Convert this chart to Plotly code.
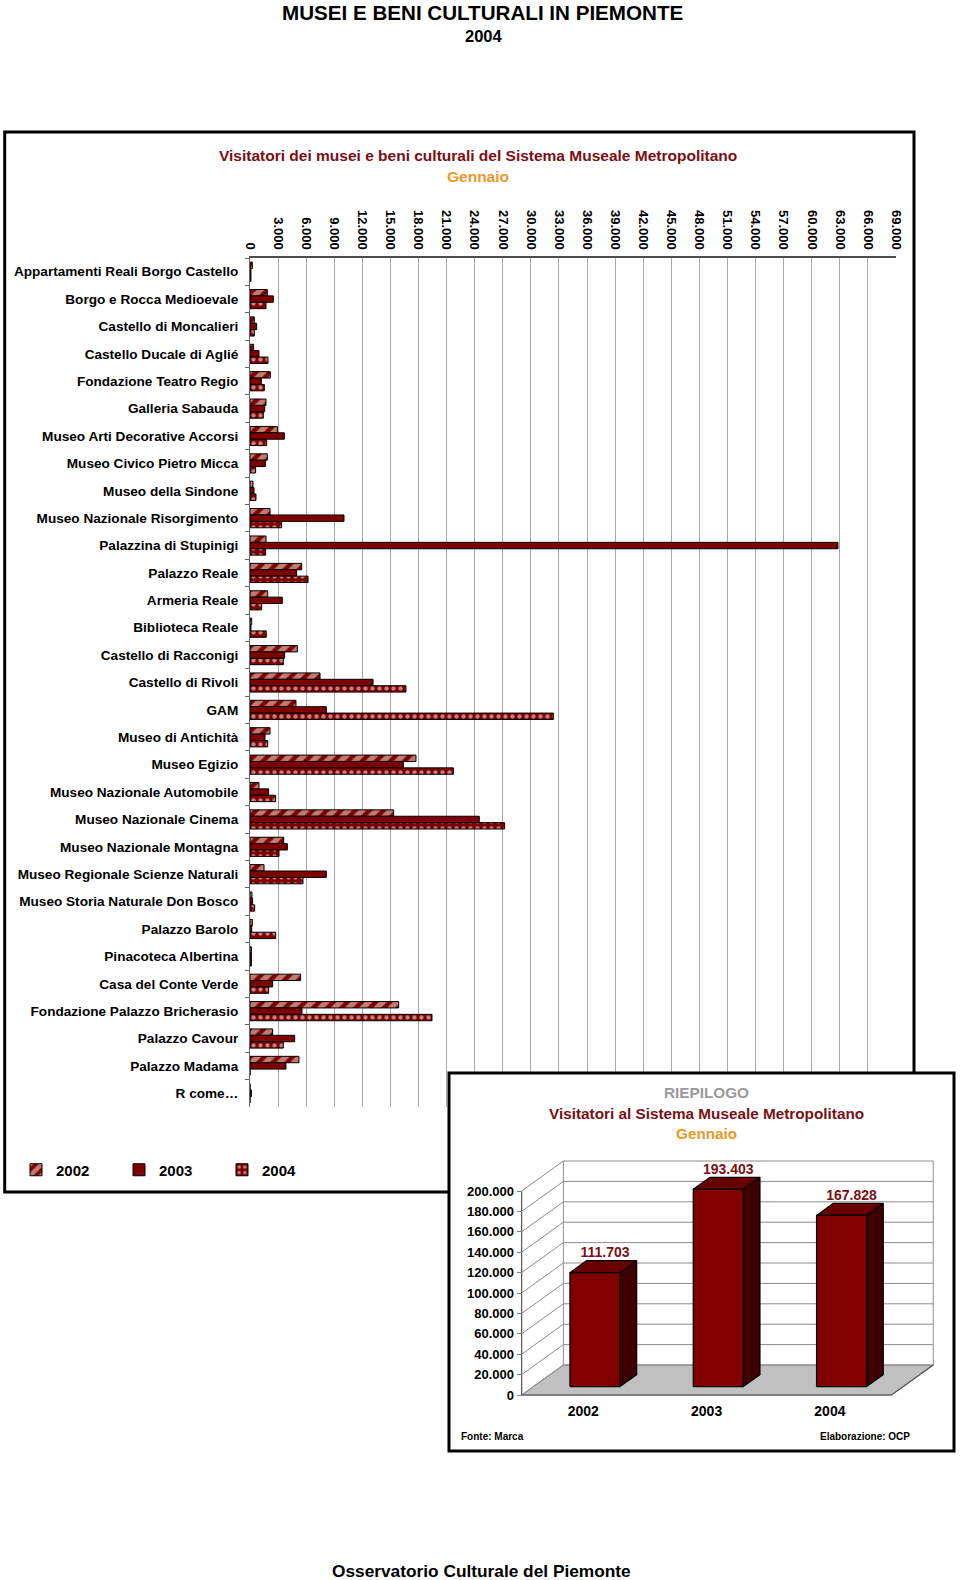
import plotly.graph_objects as go

# ---------------- DATA ----------------
CATEGORIES = [
    "Appartamenti Reali Borgo Castello", "Borgo e Rocca Medioevale", "Castello di Moncalieri",
    "Castello Ducale di Aglié", "Fondazione Teatro Regio", "Galleria Sabauda",
    "Museo Arti Decorative Accorsi", "Museo Civico Pietro Micca", "Museo della Sindone",
    "Museo Nazionale Risorgimento", "Palazzina di Stupinigi", "Palazzo Reale", "Armeria Reale",
    "Biblioteca Reale", "Castello di Racconigi", "Castello di Rivoli", "GAM", "Museo di Antichità",
    "Museo Egizio", "Museo Nazionale Automobile", "Museo Nazionale Cinema",
    "Museo Nazionale Montagna", "Museo Regionale Scienze Naturali",
    "Museo Storia Naturale Don Bosco", "Palazzo Barolo", "Pinacoteca Albertina",
    "Casa del Conte Verde", "Fondazione Palazzo Bricherasio", "Palazzo Cavour", "Palazzo Madama",
    "R come…",
]
V2002 = [250, 1850, 460, 390, 2170, 1710, 2920, 1850, 320, 2140, 1710, 5520, 1890, 180, 5060,
         7480, 4910, 2140, 17730, 960, 15340, 3600, 1500, 210, 250, 150, 5410, 15880, 2420, 5230, 0]
V2003 = [100, 2490, 710, 960, 1210, 1570, 3670, 1640, 430, 10040, 62800, 4980, 3450, 100, 3700,
         13140, 8150, 1600, 16380, 1990, 24490, 3990, 8150, 280, 180, 150, 2420, 5550, 4770, 3840, 150]
V2004 = [100, 1710, 460, 1920, 1530, 1420, 1780, 600, 640, 3380, 1670, 6200, 1250, 1740, 3560,
         16660, 32400, 1890, 21720, 2740, 27200, 3100, 5660, 500, 2740, 150, 1990, 19440, 3560, 0, 0]
SERIES_NAMES = ["2002", "2003", "2004"]
X_TICKS = [0, 3000, 6000, 9000, 12000, 15000, 18000, 21000, 24000, 27000, 30000, 33000, 36000,
           39000, 42000, 45000, 48000, 51000, 54000, 57000, 60000, 63000, 66000, 69000]

SUMMARY_YEARS = ["2002", "2003", "2004"]
SUMMARY_TOTALS = [111703, 193403, 167828]
SUMMARY_TICKS = [0, 20000, 40000, 60000, 80000, 100000, 120000, 140000, 160000, 180000, 200000]

# ---------------- LAYOUT HELPERS ----------------
W, H = 960, 1580
FONT = "Liberation Sans, Arial, Helvetica, sans-serif"
DARKRED = "#800000"
TITLE_RED = "#7A0F14"
ORANGE = "#E69A28"


def px(x):
    return x / W


def py(y):
    return 1 - y / H


fig = go.Figure()

# ---------------- MAIN CHART ----------------
styles = [
    dict(color=DARKRED, line=dict(color="black", width=1),
         pattern=dict(shape="/", fgcolor="#FFF8E2", bgcolor=DARKRED, size=10, solidity=0.55)),
    dict(color=DARKRED, line=dict(color="black", width=1)),
    dict(color=DARKRED, line=dict(color="black", width=1),
         pattern=dict(shape=".", fgcolor="#FFFFFF", bgcolor=DARKRED, size=7, solidity=0.3)),
]
for name, vals, st in zip(SERIES_NAMES, [V2002, V2003, V2004], styles):
    fig.add_trace(go.Bar(y=CATEGORIES, x=vals, orientation="h", name=name, marker=st,
                         xaxis="x", yaxis="y", hoverinfo="x+y+name"))

# ---------------- SUMMARY (pseudo-3D) CHART ----------------
BOX = (449, 1073, 954, 1451)          # px box of the summary panel
X0_PX, CAT_PX = 583.3, 123.3          # px of category 0 on the front axis, px per category
ZERO_PX, V_PER_PX = 1395.0, 980.4     # px of value 0 on the front axis, value per px
DEPTH_X, DEPTH_V = 0.338, 29400       # floor depth in axis units
BAR_F, BAR_D, BAR_HALF = 0.28, 0.40, 0.203

xr = [(BOX[0] - X0_PX) / CAT_PX, (BOX[2] - X0_PX) / CAT_PX]
yr = [(ZERO_PX - BOX[3]) * V_PER_PX, (ZERO_PX - BOX[1]) * V_PER_PX]

sub = dict(xaxis="x2", yaxis="y2", showlegend=False, hoverinfo="skip")

# white panel background (covers main chart behind it)
fig.add_trace(go.Scatter(x=[xr[0], xr[1], xr[1], xr[0], xr[0]], y=[yr[0], yr[0], yr[1], yr[1], yr[0]],
                         mode="lines", fill="toself", fillcolor="white", line=dict(width=0), **sub))

left, right = -0.5, len(SUMMARY_YEARS) - 0.5
top_v = SUMMARY_TICKS[-1]
# floor
fig.add_trace(go.Scatter(x=[left, right, right + DEPTH_X, left + DEPTH_X, left],
                         y=[0, 0, DEPTH_V, DEPTH_V, 0], mode="lines", fill="toself",
                         fillcolor="#C0C0C0", line=dict(color="#808080", width=1), **sub))
# walls and gridlines
gx, gy = [], []
for t in SUMMARY_TICKS:
    gx += [left, left + DEPTH_X, right + DEPTH_X, None]
    gy += [t, t + DEPTH_V, t + DEPTH_V, None]
gx += [left + DEPTH_X, left + DEPTH_X, None, right + DEPTH_X, right + DEPTH_X, None]
gy += [DEPTH_V, top_v + DEPTH_V, None, DEPTH_V, top_v + DEPTH_V, None]
fig.add_trace(go.Scatter(x=gx, y=gy, mode="lines", line=dict(color="#8C8C8C", width=1), **sub))
# front axis lines
fig.add_trace(go.Scatter(x=[left, left, None, left, right, right + DEPTH_X],
                         y=[top_v, 0, None, 0, 0, DEPTH_V], mode="lines",
                         line=dict(color="#555555", width=1.2), **sub))

# bars
fx, fy, sx, sy, tx, ty = [], [], [], [], [], []
lab_x, lab_y = [], []
base = BAR_F * DEPTH_V
dx, dv = BAR_D * DEPTH_X, BAR_D * DEPTH_V
for i, v in enumerate(SUMMARY_TOTALS):
    c = i + BAR_F * DEPTH_X
    x0, x1 = c - BAR_HALF, c + BAR_HALF
    t = base + v
    fx += [x0, x1, x1, x0, x0, None]
    fy += [base, base, t, t, base, None]
    sx += [x1, x1 + dx, x1 + dx, x1, x1, None]
    sy += [base, base + dv, t + dv, t, base, None]
    tx += [x0, x1, x1 + dx, x0 + dx, x0, None]
    ty += [t, t, t + dv, t + dv, t, None]
    lab_x.append(c + dx * 0.6)
    lab_y.append(t + dv)
edge = dict(color="black", width=1.2)
fig.add_trace(go.Scatter(x=sx, y=sy, mode="lines", fill="toself", fillcolor="#3E0000", line=edge, **sub))
fig.add_trace(go.Scatter(x=tx, y=ty, mode="lines", fill="toself", fillcolor="#680000", line=edge, **sub))
fig.add_trace(go.Scatter(x=fx, y=fy, mode="lines", fill="toself", fillcolor=DARKRED, line=edge, **sub))
fig.add_trace(go.Scatter(x=lab_x, y=lab_y, mode="text", textposition="top center",
                         text=[f"{v:,}".replace(",", ".") for v in SUMMARY_TOTALS],
                         textfont=dict(family=FONT, size=14, color=TITLE_RED, weight="bold"),
                         cliponaxis=False, **sub))

# ---------------- LAYOUT ----------------
bold = lambda s, c="black": dict(family=FONT, size=s, color=c, weight="bold")

fig.update_layout(
    width=W, height=H, margin=dict(l=0, r=0, t=0, b=0, pad=0, autoexpand=False), autosize=False,
    paper_bgcolor="white", plot_bgcolor="rgba(0,0,0,0)",
    separators=",.",
    font=dict(family=FONT, color="black"),
    barmode="group", bargap=0.3, bargroupgap=0,
    xaxis=dict(domain=[px(250), px(896)], range=[0, 69000], side="top", anchor="y",
               tickmode="array", tickvals=X_TICKS, tickformat=",d", tickangle=90,
               tickfont=bold(13), ticks="", ticklabelstandoff=2, automargin=False,
               showgrid=True, gridcolor="#A8A8A8", gridwidth=1, zeroline=False,
               showline=True, linecolor="#4D4D4D", linewidth=1.5),
    yaxis=dict(domain=[py(1107), py(258)], anchor="x", type="category",
               categoryorder="array", categoryarray=CATEGORIES, autorange="reversed",
               ticks="outside", ticklen=4, tickcolor="#666666", tickson="boundaries",
               tickfont=bold(13.6), ticklabelstandoff=8, automargin=False,
               showline=True, linecolor="#666666", linewidth=1, showgrid=False),
    xaxis2=dict(domain=[px(BOX[0]), px(BOX[2])], range=xr, anchor="free", position=py(ZERO_PX),
                tickmode="array", tickvals=list(range(len(SUMMARY_YEARS))), ticktext=SUMMARY_YEARS,
                tickfont=bold(14), ticks="", ticklabelstandoff=6, automargin=False,
                showgrid=False, zeroline=False, showline=False),
    yaxis2=dict(domain=[py(BOX[3]), py(BOX[1])], range=yr, anchor="free",
                position=px(X0_PX - 0.5 * CAT_PX), automargin=False,
                tickmode="array", tickvals=SUMMARY_TICKS, tickformat=",d", tickfont=bold(13),
                ticks="outside", ticklen=5, tickcolor="#808080",
                showgrid=False, zeroline=False, showline=False),
    legend=dict(orientation="h", x=px(16), y=py(1170), xanchor="left", yanchor="middle",
                font=bold(15), entrywidth=58, itemwidth=30, bgcolor="rgba(0,0,0,0)",
                traceorder="normal"),
    shapes=[
        dict(type="rect", xref="paper", yref="paper", x0=px(4.7), y0=py(1192), x1=px(914), y1=py(132),
             line=dict(color="black", width=3), fillcolor="rgba(0,0,0,0)", layer="below"),
        dict(type="rect", xref="paper", yref="paper", x0=px(BOX[0]), y0=py(BOX[3]), x1=px(BOX[2]),
             y1=py(BOX[1]), line=dict(color="black", width=3), fillcolor="rgba(0,0,0,0)", layer="above"),
    ],
)

ann = [
    ("MUSEI E BENI CULTURALI IN PIEMONTE", 482, 12, bold(20.6), "center"),
    ("2004", 484, 36, bold(16.5), "center"),
    ("Visitatori dei musei e beni culturali del Sistema Museale Metropolitano", 478, 156, bold(15.5, TITLE_RED), "center"),
    ("Gennaio", 478, 176, bold(15.5, ORANGE), "center"),
    ("RIEPILOGO", 706, 1092, bold(15.3, "#9A9A9A"), "center"),
    ("Visitatori al Sistema Museale Metropolitano", 706, 1113, bold(15.3, TITLE_RED), "center"),
    ("Gennaio", 706, 1133, bold(15.3, ORANGE), "center"),
    ("Fonte: Marca", 459, 1436, bold(10), "left"),
    ("Elaborazione: OCP", 912, 1436, bold(10), "right"),
    ("Osservatorio Culturale del Piemonte", 481, 1571, bold(17.3), "center"),
]
for text, x, y, f, xa in ann:
    fig.add_annotation(text=text, x=px(x), y=py(y), xref="paper", yref="paper", showarrow=False,
                       xanchor=xa, yanchor="middle", font=f)

fig.write_html("out.html", config={"displayModeBar": False, "responsive": False},
               post_script="document.body.style.margin='0';")
